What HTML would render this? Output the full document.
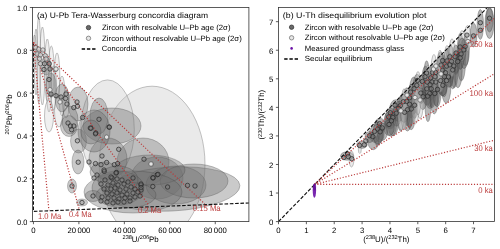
<!DOCTYPE html>
<html><head><meta charset="utf-8"><style>html,body{margin:0;padding:0;background:#fff;width:500px;height:249px;overflow:hidden}svg{display:block;font-family:"Liberation Sans",sans-serif}</style></head>
<body><svg width="500" height="249" viewBox="0 0 500 249"  style="will-change:transform;text-rendering:geometricPrecision">
<defs>
<clipPath id="ca"><rect x="32.45" y="7.5" width="216.45" height="214.1"/></clipPath>
<clipPath id="cb"><rect x="278.5" y="7.4" width="216.0" height="214.2"/></clipPath>
</defs>
<rect width="500" height="249" fill="#fff"/>
<g clip-path="url(#ca)">
<ellipse cx="152.10" cy="164.10" rx="52.90" ry="77.90" fill="#c8c8c8" fill-opacity="0.38" stroke="#707070" stroke-opacity="0.75" stroke-width="0.55"/>
<ellipse cx="107.50" cy="129.70" rx="26.80" ry="49.80" fill="#c8c8c8" fill-opacity="0.38" stroke="#707070" stroke-opacity="0.75" stroke-width="0.55"/>
<ellipse cx="38.70" cy="60.00" rx="1.90" ry="43.00" fill="#cccccc" fill-opacity="0.3" stroke="#6a6a6a" stroke-opacity="0.8" stroke-width="0.5"/>
<ellipse cx="42.40" cy="66.00" rx="2.60" ry="39.00" fill="#cccccc" fill-opacity="0.3" stroke="#6a6a6a" stroke-opacity="0.8" stroke-width="0.5"/>
<ellipse cx="36.00" cy="62.00" rx="1.80" ry="33.00" fill="#cccccc" fill-opacity="0.3" stroke="#6a6a6a" stroke-opacity="0.8" stroke-width="0.5"/>
<ellipse cx="47.30" cy="70.00" rx="2.60" ry="31.00" fill="#cccccc" fill-opacity="0.3" stroke="#6a6a6a" stroke-opacity="0.8" stroke-width="0.5"/>
<ellipse cx="51.30" cy="72.00" rx="2.80" ry="26.00" fill="#cccccc" fill-opacity="0.3" stroke="#6a6a6a" stroke-opacity="0.8" stroke-width="0.5"/>
<ellipse cx="57.00" cy="76.00" rx="2.80" ry="23.00" fill="#cccccc" fill-opacity="0.3" stroke="#6a6a6a" stroke-opacity="0.8" stroke-width="0.5"/>
<ellipse cx="53.50" cy="88.00" rx="3.00" ry="22.00" fill="#cccccc" fill-opacity="0.3" stroke="#6a6a6a" stroke-opacity="0.8" stroke-width="0.5"/>
<ellipse cx="49.00" cy="86.00" rx="2.60" ry="26.00" fill="#cccccc" fill-opacity="0.3" stroke="#6a6a6a" stroke-opacity="0.8" stroke-width="0.5"/>
<ellipse cx="62.00" cy="96.00" rx="3.00" ry="20.00" fill="#cccccc" fill-opacity="0.3" stroke="#6a6a6a" stroke-opacity="0.8" stroke-width="0.5"/>
<ellipse cx="34.50" cy="52.00" rx="1.60" ry="17.00" fill="#cccccc" fill-opacity="0.3" stroke="#6a6a6a" stroke-opacity="0.8" stroke-width="0.5"/>
<ellipse cx="59.00" cy="111.00" rx="4.50" ry="16.00" fill="#cccccc" fill-opacity="0.3" stroke="#6a6a6a" stroke-opacity="0.8" stroke-width="0.5"/>
<ellipse cx="49.00" cy="116.00" rx="4.50" ry="16.00" fill="#cccccc" fill-opacity="0.3" stroke="#6a6a6a" stroke-opacity="0.8" stroke-width="0.5"/>
<ellipse cx="66.00" cy="104.00" rx="3.20" ry="14.00" fill="#cccccc" fill-opacity="0.3" stroke="#6a6a6a" stroke-opacity="0.8" stroke-width="0.5"/>
<ellipse cx="112.00" cy="126.00" rx="29.00" ry="18.00" fill="#6e6e6e" fill-opacity="0.37" stroke="#404040" stroke-opacity="0.55" stroke-width="0.55"/>
<ellipse cx="143.00" cy="162.00" rx="26.00" ry="24.00" fill="#6e6e6e" fill-opacity="0.37" stroke="#404040" stroke-opacity="0.55" stroke-width="0.55"/>
<ellipse cx="157.00" cy="178.00" rx="26.00" ry="21.00" fill="#6e6e6e" fill-opacity="0.37" stroke="#404040" stroke-opacity="0.55" stroke-width="0.55"/>
<ellipse cx="108.00" cy="159.00" rx="19.00" ry="21.00" fill="#6e6e6e" fill-opacity="0.37" stroke="#404040" stroke-opacity="0.55" stroke-width="0.55"/>
<ellipse cx="172.00" cy="189.00" rx="68.00" ry="22.00" fill="#6e6e6e" fill-opacity="0.37" stroke="#404040" stroke-opacity="0.55" stroke-width="0.55" transform="rotate(-3.0 172.00 189.00)"/>
<ellipse cx="176.00" cy="185.00" rx="30.00" ry="19.00" fill="#6e6e6e" fill-opacity="0.37" stroke="#404040" stroke-opacity="0.55" stroke-width="0.55"/>
<ellipse cx="194.00" cy="181.00" rx="34.00" ry="17.00" fill="#6e6e6e" fill-opacity="0.37" stroke="#404040" stroke-opacity="0.55" stroke-width="0.55"/>
<ellipse cx="150.00" cy="170.00" rx="35.00" ry="15.00" fill="#6e6e6e" fill-opacity="0.37" stroke="#404040" stroke-opacity="0.55" stroke-width="0.55"/>
<ellipse cx="133.00" cy="192.00" rx="49.00" ry="21.00" fill="#6e6e6e" fill-opacity="0.37" stroke="#404040" stroke-opacity="0.55" stroke-width="0.55"/>
<ellipse cx="118.00" cy="188.00" rx="26.00" ry="17.00" fill="#6e6e6e" fill-opacity="0.37" stroke="#404040" stroke-opacity="0.55" stroke-width="0.55"/>
<ellipse cx="126.00" cy="195.00" rx="30.00" ry="13.00" fill="#6e6e6e" fill-opacity="0.37" stroke="#404040" stroke-opacity="0.55" stroke-width="0.55"/>
<ellipse cx="78.00" cy="104.00" rx="10.00" ry="17.00" fill="#6e6e6e" fill-opacity="0.37" stroke="#404040" stroke-opacity="0.55" stroke-width="0.55"/>
<ellipse cx="99.00" cy="116.00" rx="9.00" ry="18.00" fill="#6e6e6e" fill-opacity="0.37" stroke="#404040" stroke-opacity="0.55" stroke-width="0.55"/>
<ellipse cx="62.00" cy="98.00" rx="7.00" ry="14.00" fill="#6e6e6e" fill-opacity="0.37" stroke="#404040" stroke-opacity="0.55" stroke-width="0.55"/>
<ellipse cx="51.00" cy="85.00" rx="5.00" ry="12.00" fill="#6e6e6e" fill-opacity="0.37" stroke="#404040" stroke-opacity="0.55" stroke-width="0.55"/>
<ellipse cx="46.00" cy="66.00" rx="5.00" ry="9.00" fill="#6e6e6e" fill-opacity="0.37" stroke="#404040" stroke-opacity="0.55" stroke-width="0.55"/>
<ellipse cx="69.00" cy="126.00" rx="8.50" ry="10.50" fill="#6e6e6e" fill-opacity="0.37" stroke="#404040" stroke-opacity="0.55" stroke-width="0.55"/>
<ellipse cx="78.50" cy="141.00" rx="8.00" ry="12.00" fill="#6e6e6e" fill-opacity="0.37" stroke="#404040" stroke-opacity="0.55" stroke-width="0.55"/>
<ellipse cx="94.00" cy="131.00" rx="16.00" ry="21.00" fill="#6e6e6e" fill-opacity="0.37" stroke="#404040" stroke-opacity="0.55" stroke-width="0.55"/>
<ellipse cx="78.00" cy="162.00" rx="6.00" ry="12.00" fill="#6e6e6e" fill-opacity="0.37" stroke="#404040" stroke-opacity="0.55" stroke-width="0.55"/>
<ellipse cx="72.00" cy="186.00" rx="4.50" ry="7.00" fill="#6e6e6e" fill-opacity="0.37" stroke="#404040" stroke-opacity="0.55" stroke-width="0.55"/>
<ellipse cx="82.00" cy="202.50" rx="5.50" ry="3.50" fill="#6e6e6e" fill-opacity="0.37" stroke="#404040" stroke-opacity="0.55" stroke-width="0.55"/>
<ellipse cx="93.00" cy="196.00" rx="8.00" ry="5.50" fill="#6e6e6e" fill-opacity="0.37" stroke="#404040" stroke-opacity="0.55" stroke-width="0.55"/>
<ellipse cx="104.00" cy="172.00" rx="14.00" ry="10.00" fill="#6e6e6e" fill-opacity="0.37" stroke="#404040" stroke-opacity="0.55" stroke-width="0.55"/>
<ellipse cx="118.00" cy="180.00" rx="20.00" ry="14.00" fill="#6e6e6e" fill-opacity="0.37" stroke="#404040" stroke-opacity="0.55" stroke-width="0.55"/>
<ellipse cx="91.00" cy="132.00" rx="10.00" ry="12.00" fill="#6e6e6e" fill-opacity="0.37" stroke="#404040" stroke-opacity="0.55" stroke-width="0.55"/>
<ellipse cx="70.00" cy="120.00" rx="8.00" ry="14.00" fill="#6e6e6e" fill-opacity="0.37" stroke="#404040" stroke-opacity="0.55" stroke-width="0.55"/>
<path d="M33.35,42.2 L33.45,211.4 L249,203.0" fill="none" stroke="#111" stroke-width="1.15" stroke-dasharray="3.6,1.7"/>
<line x1="33.40" y1="42.40" x2="48.90" y2="210.30" stroke="#bb3b3b" stroke-width="1.2" stroke-dasharray="1.15,1.75" stroke-linecap="butt"/>
<line x1="33.40" y1="42.40" x2="79.00" y2="208.70" stroke="#bb3b3b" stroke-width="1.2" stroke-dasharray="1.15,1.75" stroke-linecap="butt"/>
<line x1="33.40" y1="42.40" x2="149.00" y2="205.70" stroke="#bb3b3b" stroke-width="1.2" stroke-dasharray="1.15,1.75" stroke-linecap="butt"/>
<line x1="33.40" y1="42.40" x2="204.70" y2="203.90" stroke="#bb3b3b" stroke-width="1.2" stroke-dasharray="1.15,1.75" stroke-linecap="butt"/>
<circle cx="35.60" cy="47.60" r="2.2" fill="#d0d0d0" fill-opacity="0.75" stroke="#505050" stroke-width="0.65"/>
<circle cx="38.80" cy="49.20" r="2.2" fill="#d0d0d0" fill-opacity="0.75" stroke="#505050" stroke-width="0.65"/>
<circle cx="42.90" cy="50.00" r="2.2" fill="#d0d0d0" fill-opacity="0.75" stroke="#505050" stroke-width="0.65"/>
<circle cx="37.20" cy="54.00" r="2.2" fill="#d0d0d0" fill-opacity="0.75" stroke="#505050" stroke-width="0.65"/>
<circle cx="40.40" cy="54.90" r="2.2" fill="#d0d0d0" fill-opacity="0.75" stroke="#505050" stroke-width="0.65"/>
<circle cx="45.30" cy="55.70" r="2.2" fill="#d0d0d0" fill-opacity="0.75" stroke="#505050" stroke-width="0.65"/>
<circle cx="39.60" cy="58.90" r="2.2" fill="#d0d0d0" fill-opacity="0.75" stroke="#505050" stroke-width="0.65"/>
<circle cx="46.00" cy="58.90" r="2.2" fill="#d0d0d0" fill-opacity="0.75" stroke="#505050" stroke-width="0.65"/>
<circle cx="40.40" cy="63.70" r="2.2" fill="#d0d0d0" fill-opacity="0.75" stroke="#505050" stroke-width="0.65"/>
<circle cx="44.50" cy="63.70" r="2.2" fill="#7a7a7a" fill-opacity="0.3" stroke="#262626" stroke-width="0.7"/>
<circle cx="49.30" cy="63.70" r="2.2" fill="#7a7a7a" fill-opacity="0.3" stroke="#262626" stroke-width="0.7"/>
<circle cx="44.00" cy="69.50" r="2.2" fill="#7a7a7a" fill-opacity="0.3" stroke="#262626" stroke-width="0.7"/>
<circle cx="50.00" cy="69.00" r="2.2" fill="#7a7a7a" fill-opacity="0.3" stroke="#262626" stroke-width="0.7"/>
<circle cx="49.00" cy="79.50" r="2.2" fill="#7a7a7a" fill-opacity="0.3" stroke="#262626" stroke-width="0.7"/>
<circle cx="51.00" cy="94.00" r="2.2" fill="#7a7a7a" fill-opacity="0.3" stroke="#262626" stroke-width="0.7"/>
<circle cx="56.00" cy="95.70" r="2.2" fill="#7a7a7a" fill-opacity="0.3" stroke="#262626" stroke-width="0.7"/>
<circle cx="61.00" cy="97.00" r="2.2" fill="#7a7a7a" fill-opacity="0.3" stroke="#262626" stroke-width="0.7"/>
<circle cx="66.00" cy="94.00" r="2.2" fill="#7a7a7a" fill-opacity="0.3" stroke="#262626" stroke-width="0.7"/>
<circle cx="65.50" cy="98.50" r="2.2" fill="#7a7a7a" fill-opacity="0.3" stroke="#262626" stroke-width="0.7"/>
<circle cx="67.00" cy="104.00" r="2.2" fill="#7a7a7a" fill-opacity="0.3" stroke="#262626" stroke-width="0.7"/>
<circle cx="77.00" cy="102.00" r="2.2" fill="#7a7a7a" fill-opacity="0.3" stroke="#262626" stroke-width="0.7"/>
<circle cx="73.80" cy="107.60" r="2.2" fill="#7a7a7a" fill-opacity="0.3" stroke="#262626" stroke-width="0.7"/>
<circle cx="77.50" cy="106.30" r="2.2" fill="#7a7a7a" fill-opacity="0.3" stroke="#262626" stroke-width="0.7"/>
<circle cx="82.60" cy="117.50" r="2.2" fill="#7a7a7a" fill-opacity="0.3" stroke="#262626" stroke-width="0.7"/>
<circle cx="99.00" cy="119.30" r="2.2" fill="#7a7a7a" fill-opacity="0.3" stroke="#262626" stroke-width="0.7"/>
<circle cx="68.00" cy="123.00" r="2.2" fill="#7a7a7a" fill-opacity="0.3" stroke="#262626" stroke-width="0.7"/>
<circle cx="70.50" cy="126.00" r="2.2" fill="#7a7a7a" fill-opacity="0.3" stroke="#262626" stroke-width="0.7"/>
<circle cx="73.80" cy="126.00" r="2.2" fill="#7a7a7a" fill-opacity="0.3" stroke="#262626" stroke-width="0.7"/>
<circle cx="71.60" cy="129.70" r="2.2" fill="#7a7a7a" fill-opacity="0.3" stroke="#262626" stroke-width="0.7"/>
<circle cx="90.30" cy="128.00" r="2.2" fill="#7a7a7a" fill-opacity="0.3" stroke="#262626" stroke-width="0.7"/>
<circle cx="109.00" cy="127.00" r="2.2" fill="#7a7a7a" fill-opacity="0.3" stroke="#262626" stroke-width="0.7"/>
<circle cx="95.80" cy="133.00" r="2.2" fill="#7a7a7a" fill-opacity="0.3" stroke="#262626" stroke-width="0.7"/>
<circle cx="91.00" cy="128.30" r="2.2" fill="#7a7a7a" fill-opacity="0.3" stroke="#262626" stroke-width="0.7"/>
<circle cx="95.50" cy="133.80" r="2.2" fill="#7a7a7a" fill-opacity="0.3" stroke="#262626" stroke-width="0.7"/>
<circle cx="109.40" cy="127.20" r="2.2" fill="#7a7a7a" fill-opacity="0.3" stroke="#262626" stroke-width="0.7"/>
<circle cx="118.70" cy="149.30" r="2.2" fill="#7a7a7a" fill-opacity="0.3" stroke="#262626" stroke-width="0.7"/>
<circle cx="102.00" cy="156.00" r="2.2" fill="#7a7a7a" fill-opacity="0.3" stroke="#262626" stroke-width="0.7"/>
<circle cx="95.50" cy="163.60" r="2.2" fill="#7a7a7a" fill-opacity="0.3" stroke="#262626" stroke-width="0.7"/>
<circle cx="101.00" cy="164.70" r="2.2" fill="#7a7a7a" fill-opacity="0.3" stroke="#262626" stroke-width="0.7"/>
<circle cx="106.60" cy="162.50" r="2.2" fill="#7a7a7a" fill-opacity="0.3" stroke="#262626" stroke-width="0.7"/>
<circle cx="114.30" cy="164.70" r="2.2" fill="#7a7a7a" fill-opacity="0.3" stroke="#262626" stroke-width="0.7"/>
<circle cx="117.60" cy="163.60" r="2.2" fill="#7a7a7a" fill-opacity="0.3" stroke="#262626" stroke-width="0.7"/>
<circle cx="104.30" cy="171.40" r="2.2" fill="#7a7a7a" fill-opacity="0.3" stroke="#262626" stroke-width="0.7"/>
<circle cx="116.50" cy="172.50" r="2.2" fill="#7a7a7a" fill-opacity="0.3" stroke="#262626" stroke-width="0.7"/>
<circle cx="112.00" cy="178.00" r="2.2" fill="#7a7a7a" fill-opacity="0.3" stroke="#262626" stroke-width="0.7"/>
<circle cx="144.00" cy="159.20" r="2.2" fill="#7a7a7a" fill-opacity="0.3" stroke="#262626" stroke-width="0.7"/>
<circle cx="157.30" cy="174.70" r="2.2" fill="#7a7a7a" fill-opacity="0.3" stroke="#262626" stroke-width="0.7"/>
<circle cx="153.00" cy="178.00" r="2.2" fill="#7a7a7a" fill-opacity="0.3" stroke="#262626" stroke-width="0.7"/>
<circle cx="133.00" cy="178.00" r="2.2" fill="#7a7a7a" fill-opacity="0.3" stroke="#262626" stroke-width="0.7"/>
<circle cx="78.20" cy="162.20" r="2.2" fill="#7a7a7a" fill-opacity="0.3" stroke="#262626" stroke-width="0.7"/>
<circle cx="77.40" cy="140.80" r="2.2" fill="#7a7a7a" fill-opacity="0.3" stroke="#262626" stroke-width="0.7"/>
<circle cx="72.00" cy="186.00" r="2.2" fill="#7a7a7a" fill-opacity="0.3" stroke="#262626" stroke-width="0.7"/>
<circle cx="82.00" cy="202.50" r="2.2" fill="#7a7a7a" fill-opacity="0.3" stroke="#262626" stroke-width="0.7"/>
<circle cx="93.00" cy="196.00" r="2.2" fill="#7a7a7a" fill-opacity="0.3" stroke="#262626" stroke-width="0.7"/>
<circle cx="104.00" cy="170.00" r="2.2" fill="#7a7a7a" fill-opacity="0.3" stroke="#262626" stroke-width="0.7"/>
<circle cx="116.00" cy="173.00" r="2.2" fill="#7a7a7a" fill-opacity="0.3" stroke="#262626" stroke-width="0.7"/>
<circle cx="94.00" cy="178.00" r="2.2" fill="#7a7a7a" fill-opacity="0.3" stroke="#262626" stroke-width="0.7"/>
<circle cx="97.00" cy="175.00" r="2.2" fill="#7a7a7a" fill-opacity="0.3" stroke="#262626" stroke-width="0.7"/>
<circle cx="105.00" cy="180.00" r="2.2" fill="#7a7a7a" fill-opacity="0.3" stroke="#262626" stroke-width="0.7"/>
<circle cx="111.00" cy="177.00" r="2.2" fill="#7a7a7a" fill-opacity="0.3" stroke="#262626" stroke-width="0.7"/>
<circle cx="117.00" cy="179.00" r="2.2" fill="#7a7a7a" fill-opacity="0.3" stroke="#262626" stroke-width="0.7"/>
<circle cx="122.00" cy="180.00" r="2.2" fill="#7a7a7a" fill-opacity="0.3" stroke="#262626" stroke-width="0.7"/>
<circle cx="101.00" cy="184.00" r="2.2" fill="#7a7a7a" fill-opacity="0.3" stroke="#262626" stroke-width="0.7"/>
<circle cx="108.00" cy="185.00" r="2.2" fill="#7a7a7a" fill-opacity="0.3" stroke="#262626" stroke-width="0.7"/>
<circle cx="113.00" cy="183.00" r="2.2" fill="#7a7a7a" fill-opacity="0.3" stroke="#262626" stroke-width="0.7"/>
<circle cx="118.00" cy="185.00" r="2.2" fill="#7a7a7a" fill-opacity="0.3" stroke="#262626" stroke-width="0.7"/>
<circle cx="124.00" cy="184.00" r="2.2" fill="#7a7a7a" fill-opacity="0.3" stroke="#262626" stroke-width="0.7"/>
<circle cx="128.00" cy="182.00" r="2.2" fill="#7a7a7a" fill-opacity="0.3" stroke="#262626" stroke-width="0.7"/>
<circle cx="104.00" cy="189.00" r="2.2" fill="#7a7a7a" fill-opacity="0.3" stroke="#262626" stroke-width="0.7"/>
<circle cx="111.00" cy="189.00" r="2.2" fill="#7a7a7a" fill-opacity="0.3" stroke="#262626" stroke-width="0.7"/>
<circle cx="115.00" cy="188.00" r="2.2" fill="#7a7a7a" fill-opacity="0.3" stroke="#262626" stroke-width="0.7"/>
<circle cx="120.00" cy="190.00" r="2.2" fill="#7a7a7a" fill-opacity="0.3" stroke="#262626" stroke-width="0.7"/>
<circle cx="126.00" cy="189.00" r="2.2" fill="#7a7a7a" fill-opacity="0.3" stroke="#262626" stroke-width="0.7"/>
<circle cx="131.00" cy="187.00" r="2.2" fill="#7a7a7a" fill-opacity="0.3" stroke="#262626" stroke-width="0.7"/>
<circle cx="135.00" cy="189.00" r="2.2" fill="#7a7a7a" fill-opacity="0.3" stroke="#262626" stroke-width="0.7"/>
<circle cx="107.00" cy="193.00" r="2.2" fill="#7a7a7a" fill-opacity="0.3" stroke="#262626" stroke-width="0.7"/>
<circle cx="112.00" cy="194.00" r="2.2" fill="#7a7a7a" fill-opacity="0.3" stroke="#262626" stroke-width="0.7"/>
<circle cx="117.00" cy="193.00" r="2.2" fill="#7a7a7a" fill-opacity="0.3" stroke="#262626" stroke-width="0.7"/>
<circle cx="122.00" cy="195.00" r="2.2" fill="#7a7a7a" fill-opacity="0.3" stroke="#262626" stroke-width="0.7"/>
<circle cx="127.00" cy="194.00" r="2.2" fill="#7a7a7a" fill-opacity="0.3" stroke="#262626" stroke-width="0.7"/>
<circle cx="133.00" cy="193.00" r="2.2" fill="#7a7a7a" fill-opacity="0.3" stroke="#262626" stroke-width="0.7"/>
<circle cx="138.00" cy="192.00" r="2.2" fill="#7a7a7a" fill-opacity="0.3" stroke="#262626" stroke-width="0.7"/>
<circle cx="102.00" cy="197.00" r="2.2" fill="#7a7a7a" fill-opacity="0.3" stroke="#262626" stroke-width="0.7"/>
<circle cx="108.00" cy="198.00" r="2.2" fill="#7a7a7a" fill-opacity="0.3" stroke="#262626" stroke-width="0.7"/>
<circle cx="114.00" cy="198.00" r="2.2" fill="#7a7a7a" fill-opacity="0.3" stroke="#262626" stroke-width="0.7"/>
<circle cx="119.00" cy="199.00" r="2.2" fill="#7a7a7a" fill-opacity="0.3" stroke="#262626" stroke-width="0.7"/>
<circle cx="125.00" cy="198.00" r="2.2" fill="#7a7a7a" fill-opacity="0.3" stroke="#262626" stroke-width="0.7"/>
<circle cx="130.00" cy="198.00" r="2.2" fill="#7a7a7a" fill-opacity="0.3" stroke="#262626" stroke-width="0.7"/>
<circle cx="135.00" cy="197.00" r="2.2" fill="#7a7a7a" fill-opacity="0.3" stroke="#262626" stroke-width="0.7"/>
<circle cx="140.00" cy="196.00" r="2.2" fill="#7a7a7a" fill-opacity="0.3" stroke="#262626" stroke-width="0.7"/>
<circle cx="101.00" cy="201.00" r="2.2" fill="#7a7a7a" fill-opacity="0.3" stroke="#262626" stroke-width="0.7"/>
<circle cx="107.00" cy="202.00" r="2.2" fill="#7a7a7a" fill-opacity="0.3" stroke="#262626" stroke-width="0.7"/>
<circle cx="113.00" cy="203.00" r="2.2" fill="#7a7a7a" fill-opacity="0.3" stroke="#262626" stroke-width="0.7"/>
<circle cx="118.00" cy="202.00" r="2.2" fill="#7a7a7a" fill-opacity="0.3" stroke="#262626" stroke-width="0.7"/>
<circle cx="124.00" cy="202.00" r="2.2" fill="#7a7a7a" fill-opacity="0.3" stroke="#262626" stroke-width="0.7"/>
<circle cx="130.00" cy="201.00" r="2.2" fill="#7a7a7a" fill-opacity="0.3" stroke="#262626" stroke-width="0.7"/>
<circle cx="141.00" cy="185.00" r="2.2" fill="#7a7a7a" fill-opacity="0.3" stroke="#262626" stroke-width="0.7"/>
<circle cx="141.00" cy="190.00" r="2.2" fill="#7a7a7a" fill-opacity="0.3" stroke="#262626" stroke-width="0.7"/>
<circle cx="89.00" cy="162.00" r="2.2" fill="#7a7a7a" fill-opacity="0.3" stroke="#262626" stroke-width="0.7"/>
<circle cx="153.00" cy="177.70" r="2.2" fill="#7a7a7a" fill-opacity="0.3" stroke="#262626" stroke-width="0.7"/>
<circle cx="158.00" cy="174.30" r="2.2" fill="#7a7a7a" fill-opacity="0.3" stroke="#262626" stroke-width="0.7"/>
<circle cx="141.00" cy="184.00" r="2.2" fill="#7a7a7a" fill-opacity="0.3" stroke="#262626" stroke-width="0.7"/>
<circle cx="141.00" cy="187.60" r="2.2" fill="#7a7a7a" fill-opacity="0.3" stroke="#262626" stroke-width="0.7"/>
<circle cx="152.80" cy="186.50" r="2.2" fill="#7a7a7a" fill-opacity="0.3" stroke="#262626" stroke-width="0.7"/>
<circle cx="167.60" cy="187.00" r="2.2" fill="#7a7a7a" fill-opacity="0.3" stroke="#262626" stroke-width="0.7"/>
<circle cx="187.50" cy="185.40" r="2.2" fill="#7a7a7a" fill-opacity="0.3" stroke="#262626" stroke-width="0.7"/>
<circle cx="195.00" cy="186.00" r="2.2" fill="#7a7a7a" fill-opacity="0.3" stroke="#262626" stroke-width="0.7"/>
<circle cx="55.70" cy="69.30" r="2.2" fill="#e4e4e4" stroke="#5a5a5a" stroke-width="0.7"/>
<circle cx="50.00" cy="89.70" r="2.2" fill="#e4e4e4" stroke="#5a5a5a" stroke-width="0.7"/>
<circle cx="60.00" cy="102.00" r="2.2" fill="#e4e4e4" stroke="#5a5a5a" stroke-width="0.7"/>
<circle cx="106.60" cy="137.10" r="2.2" fill="#e4e4e4" stroke="#5a5a5a" stroke-width="0.7"/>
<circle cx="151.40" cy="164.00" r="2.2" fill="#e4e4e4" stroke="#5a5a5a" stroke-width="0.7"/>
<circle cx="151.00" cy="164.00" r="2.2" fill="#e4e4e4" stroke="#5a5a5a" stroke-width="0.7"/>
<circle cx="56.00" cy="69.00" r="2.2" fill="#e4e4e4" stroke="#5a5a5a" stroke-width="0.7"/>
<text x="38" y="218.7" font-size="8.3" fill="#bb3b3b" textLength="23.2" lengthAdjust="spacingAndGlyphs">1.0 Ma</text>
<text x="68.9" y="216.6" font-size="8.3" fill="#bb3b3b" textLength="22.7" lengthAdjust="spacingAndGlyphs">0.4 Ma</text>
<text x="137.9" y="213.3" font-size="8.3" fill="#bb3b3b" textLength="23.3" lengthAdjust="spacingAndGlyphs">0.2 Ma</text>
<text x="192.8" y="211.1" font-size="8.3" fill="#bb3b3b" textLength="27.8" lengthAdjust="spacingAndGlyphs">0.15 Ma</text>
</g>
<g clip-path="url(#cb)">
<ellipse cx="460.32" cy="51.47" rx="3.16" ry="18.19" fill="#666" fill-opacity="0.48" stroke="#383838" stroke-opacity="0.6" stroke-width="0.55"/>
<ellipse cx="465.51" cy="51.31" rx="3.82" ry="14.51" fill="#666" fill-opacity="0.48" stroke="#383838" stroke-opacity="0.6" stroke-width="0.55"/>
<ellipse cx="461.40" cy="63.31" rx="4.02" ry="17.55" fill="#666" fill-opacity="0.48" stroke="#383838" stroke-opacity="0.6" stroke-width="0.55"/>
<ellipse cx="455.80" cy="59.71" rx="3.83" ry="14.82" fill="#666" fill-opacity="0.48" stroke="#383838" stroke-opacity="0.6" stroke-width="0.55"/>
<ellipse cx="464.06" cy="53.91" rx="4.47" ry="14.70" fill="#666" fill-opacity="0.48" stroke="#383838" stroke-opacity="0.6" stroke-width="0.55"/>
<ellipse cx="450.26" cy="64.04" rx="4.62" ry="18.77" fill="#666" fill-opacity="0.48" stroke="#383838" stroke-opacity="0.6" stroke-width="0.55"/>
<ellipse cx="455.52" cy="62.08" rx="4.42" ry="10.84" fill="#666" fill-opacity="0.48" stroke="#383838" stroke-opacity="0.6" stroke-width="0.55"/>
<ellipse cx="460.15" cy="61.03" rx="3.63" ry="7.99" fill="#666" fill-opacity="0.48" stroke="#383838" stroke-opacity="0.6" stroke-width="0.55"/>
<ellipse cx="442.19" cy="66.76" rx="4.38" ry="12.85" fill="#666" fill-opacity="0.48" stroke="#383838" stroke-opacity="0.6" stroke-width="0.55"/>
<ellipse cx="446.69" cy="66.17" rx="3.12" ry="16.60" fill="#666" fill-opacity="0.48" stroke="#383838" stroke-opacity="0.6" stroke-width="0.55"/>
<ellipse cx="451.16" cy="64.76" rx="4.42" ry="8.69" fill="#666" fill-opacity="0.48" stroke="#383838" stroke-opacity="0.6" stroke-width="0.55"/>
<ellipse cx="457.87" cy="70.63" rx="4.30" ry="17.08" fill="#666" fill-opacity="0.48" stroke="#383838" stroke-opacity="0.6" stroke-width="0.55"/>
<ellipse cx="440.58" cy="70.12" rx="3.89" ry="18.39" fill="#666" fill-opacity="0.48" stroke="#383838" stroke-opacity="0.6" stroke-width="0.55"/>
<ellipse cx="446.85" cy="70.58" rx="3.95" ry="10.48" fill="#666" fill-opacity="0.48" stroke="#383838" stroke-opacity="0.6" stroke-width="0.55"/>
<ellipse cx="449.87" cy="70.22" rx="3.94" ry="17.12" fill="#666" fill-opacity="0.48" stroke="#383838" stroke-opacity="0.6" stroke-width="0.55"/>
<ellipse cx="454.27" cy="70.67" rx="3.69" ry="17.14" fill="#666" fill-opacity="0.48" stroke="#383838" stroke-opacity="0.6" stroke-width="0.55"/>
<ellipse cx="442.79" cy="77.68" rx="4.53" ry="18.62" fill="#666" fill-opacity="0.48" stroke="#383838" stroke-opacity="0.6" stroke-width="0.55"/>
<ellipse cx="452.71" cy="75.49" rx="3.36" ry="13.43" fill="#666" fill-opacity="0.48" stroke="#383838" stroke-opacity="0.6" stroke-width="0.55"/>
<ellipse cx="426.62" cy="79.35" rx="3.05" ry="18.63" fill="#666" fill-opacity="0.48" stroke="#383838" stroke-opacity="0.6" stroke-width="0.55"/>
<ellipse cx="432.48" cy="78.66" rx="4.44" ry="13.75" fill="#666" fill-opacity="0.48" stroke="#383838" stroke-opacity="0.6" stroke-width="0.55"/>
<ellipse cx="435.64" cy="79.67" rx="3.12" ry="13.46" fill="#666" fill-opacity="0.48" stroke="#383838" stroke-opacity="0.6" stroke-width="0.55"/>
<ellipse cx="445.49" cy="75.23" rx="4.66" ry="10.23" fill="#666" fill-opacity="0.48" stroke="#383838" stroke-opacity="0.6" stroke-width="0.55"/>
<ellipse cx="425.39" cy="82.87" rx="3.78" ry="16.79" fill="#666" fill-opacity="0.48" stroke="#383838" stroke-opacity="0.6" stroke-width="0.55"/>
<ellipse cx="430.76" cy="82.76" rx="3.57" ry="9.30" fill="#666" fill-opacity="0.48" stroke="#383838" stroke-opacity="0.6" stroke-width="0.55"/>
<ellipse cx="434.54" cy="81.09" rx="3.23" ry="16.35" fill="#666" fill-opacity="0.48" stroke="#383838" stroke-opacity="0.6" stroke-width="0.55"/>
<ellipse cx="444.15" cy="81.66" rx="3.41" ry="15.24" fill="#666" fill-opacity="0.48" stroke="#383838" stroke-opacity="0.6" stroke-width="0.55"/>
<ellipse cx="448.68" cy="78.95" rx="4.12" ry="8.26" fill="#666" fill-opacity="0.48" stroke="#383838" stroke-opacity="0.6" stroke-width="0.55"/>
<ellipse cx="417.17" cy="84.26" rx="3.92" ry="10.01" fill="#666" fill-opacity="0.48" stroke="#383838" stroke-opacity="0.6" stroke-width="0.55"/>
<ellipse cx="422.27" cy="85.86" rx="3.79" ry="11.51" fill="#666" fill-opacity="0.48" stroke="#383838" stroke-opacity="0.6" stroke-width="0.55"/>
<ellipse cx="427.46" cy="86.15" rx="3.29" ry="9.45" fill="#666" fill-opacity="0.48" stroke="#383838" stroke-opacity="0.6" stroke-width="0.55"/>
<ellipse cx="432.24" cy="90.56" rx="3.95" ry="17.22" fill="#666" fill-opacity="0.48" stroke="#383838" stroke-opacity="0.6" stroke-width="0.55"/>
<ellipse cx="436.14" cy="90.24" rx="3.42" ry="15.89" fill="#666" fill-opacity="0.48" stroke="#383838" stroke-opacity="0.6" stroke-width="0.55"/>
<ellipse cx="441.00" cy="83.58" rx="3.57" ry="10.78" fill="#666" fill-opacity="0.48" stroke="#383838" stroke-opacity="0.6" stroke-width="0.55"/>
<ellipse cx="446.14" cy="85.63" rx="4.80" ry="17.65" fill="#666" fill-opacity="0.48" stroke="#383838" stroke-opacity="0.6" stroke-width="0.55"/>
<ellipse cx="416.41" cy="90.34" rx="4.31" ry="10.11" fill="#666" fill-opacity="0.48" stroke="#383838" stroke-opacity="0.6" stroke-width="0.55"/>
<ellipse cx="429.74" cy="90.30" rx="3.76" ry="16.48" fill="#666" fill-opacity="0.48" stroke="#383838" stroke-opacity="0.6" stroke-width="0.55"/>
<ellipse cx="442.51" cy="88.45" rx="4.23" ry="7.21" fill="#666" fill-opacity="0.48" stroke="#383838" stroke-opacity="0.6" stroke-width="0.55"/>
<ellipse cx="413.62" cy="95.69" rx="4.64" ry="18.62" fill="#666" fill-opacity="0.48" stroke="#383838" stroke-opacity="0.6" stroke-width="0.55"/>
<ellipse cx="426.96" cy="92.31" rx="4.36" ry="13.03" fill="#666" fill-opacity="0.48" stroke="#383838" stroke-opacity="0.6" stroke-width="0.55"/>
<ellipse cx="430.78" cy="92.08" rx="3.13" ry="8.27" fill="#666" fill-opacity="0.48" stroke="#383838" stroke-opacity="0.6" stroke-width="0.55"/>
<ellipse cx="437.13" cy="93.08" rx="3.93" ry="13.82" fill="#666" fill-opacity="0.48" stroke="#383838" stroke-opacity="0.6" stroke-width="0.55"/>
<ellipse cx="411.06" cy="101.04" rx="3.37" ry="17.08" fill="#666" fill-opacity="0.48" stroke="#383838" stroke-opacity="0.6" stroke-width="0.55"/>
<ellipse cx="421.32" cy="95.81" rx="3.17" ry="7.74" fill="#666" fill-opacity="0.48" stroke="#383838" stroke-opacity="0.6" stroke-width="0.55"/>
<ellipse cx="429.76" cy="97.67" rx="4.38" ry="10.92" fill="#666" fill-opacity="0.48" stroke="#383838" stroke-opacity="0.6" stroke-width="0.55"/>
<ellipse cx="434.24" cy="99.78" rx="3.77" ry="14.21" fill="#666" fill-opacity="0.48" stroke="#383838" stroke-opacity="0.6" stroke-width="0.55"/>
<ellipse cx="409.55" cy="102.00" rx="4.52" ry="9.18" fill="#666" fill-opacity="0.48" stroke="#383838" stroke-opacity="0.6" stroke-width="0.55"/>
<ellipse cx="422.79" cy="100.30" rx="3.73" ry="9.34" fill="#666" fill-opacity="0.48" stroke="#383838" stroke-opacity="0.6" stroke-width="0.55"/>
<ellipse cx="427.94" cy="104.06" rx="3.03" ry="17.72" fill="#666" fill-opacity="0.48" stroke="#383838" stroke-opacity="0.6" stroke-width="0.55"/>
<ellipse cx="403.29" cy="107.65" rx="4.55" ry="14.55" fill="#666" fill-opacity="0.48" stroke="#383838" stroke-opacity="0.6" stroke-width="0.55"/>
<ellipse cx="407.03" cy="106.85" rx="3.91" ry="18.79" fill="#666" fill-opacity="0.48" stroke="#383838" stroke-opacity="0.6" stroke-width="0.55"/>
<ellipse cx="395.31" cy="110.47" rx="5.87" ry="10.72" fill="#666" fill-opacity="0.48" stroke="#383838" stroke-opacity="0.6" stroke-width="0.55"/>
<ellipse cx="400.73" cy="113.58" rx="3.73" ry="17.76" fill="#666" fill-opacity="0.48" stroke="#383838" stroke-opacity="0.6" stroke-width="0.55"/>
<ellipse cx="409.49" cy="111.60" rx="4.38" ry="16.18" fill="#666" fill-opacity="0.48" stroke="#383838" stroke-opacity="0.6" stroke-width="0.55"/>
<ellipse cx="414.56" cy="107.45" rx="3.13" ry="11.10" fill="#666" fill-opacity="0.48" stroke="#383838" stroke-opacity="0.6" stroke-width="0.55"/>
<ellipse cx="398.76" cy="111.33" rx="5.03" ry="10.19" fill="#666" fill-opacity="0.48" stroke="#383838" stroke-opacity="0.6" stroke-width="0.55"/>
<ellipse cx="407.40" cy="116.10" rx="4.70" ry="14.99" fill="#666" fill-opacity="0.48" stroke="#383838" stroke-opacity="0.6" stroke-width="0.55"/>
<ellipse cx="411.16" cy="116.34" rx="4.03" ry="13.40" fill="#666" fill-opacity="0.48" stroke="#383838" stroke-opacity="0.6" stroke-width="0.55"/>
<ellipse cx="390.56" cy="118.45" rx="5.46" ry="10.51" fill="#666" fill-opacity="0.48" stroke="#383838" stroke-opacity="0.6" stroke-width="0.55"/>
<ellipse cx="396.51" cy="116.09" rx="4.53" ry="10.08" fill="#666" fill-opacity="0.48" stroke="#383838" stroke-opacity="0.6" stroke-width="0.55"/>
<ellipse cx="404.27" cy="114.82" rx="3.72" ry="7.61" fill="#666" fill-opacity="0.48" stroke="#383838" stroke-opacity="0.6" stroke-width="0.55"/>
<ellipse cx="388.98" cy="120.18" rx="4.65" ry="8.25" fill="#666" fill-opacity="0.48" stroke="#383838" stroke-opacity="0.6" stroke-width="0.55"/>
<ellipse cx="393.00" cy="123.86" rx="5.26" ry="11.84" fill="#666" fill-opacity="0.48" stroke="#383838" stroke-opacity="0.6" stroke-width="0.55"/>
<ellipse cx="391.02" cy="125.29" rx="5.46" ry="11.05" fill="#666" fill-opacity="0.48" stroke="#383838" stroke-opacity="0.6" stroke-width="0.55"/>
<ellipse cx="379.99" cy="125.47" rx="5.64" ry="7.23" fill="#666" fill-opacity="0.48" stroke="#383838" stroke-opacity="0.6" stroke-width="0.55"/>
<ellipse cx="389.00" cy="127.71" rx="5.21" ry="7.85" fill="#666" fill-opacity="0.48" stroke="#383838" stroke-opacity="0.6" stroke-width="0.55"/>
<ellipse cx="377.61" cy="133.63" rx="4.59" ry="11.73" fill="#666" fill-opacity="0.48" stroke="#383838" stroke-opacity="0.6" stroke-width="0.55"/>
<ellipse cx="382.08" cy="131.70" rx="5.40" ry="8.83" fill="#666" fill-opacity="0.48" stroke="#383838" stroke-opacity="0.6" stroke-width="0.55"/>
<ellipse cx="374.67" cy="134.03" rx="5.34" ry="8.42" fill="#666" fill-opacity="0.48" stroke="#383838" stroke-opacity="0.6" stroke-width="0.55"/>
<ellipse cx="379.62" cy="133.90" rx="4.52" ry="8.23" fill="#666" fill-opacity="0.48" stroke="#383838" stroke-opacity="0.6" stroke-width="0.55"/>
<ellipse cx="373.26" cy="140.75" rx="5.63" ry="8.95" fill="#666" fill-opacity="0.48" stroke="#383838" stroke-opacity="0.6" stroke-width="0.55"/>
<ellipse cx="433.94" cy="73.26" rx="3.09" ry="18.87" fill="#c8c8c8" fill-opacity="0.38" stroke="#707070" stroke-opacity="0.75" stroke-width="0.55"/>
<ellipse cx="435.88" cy="72.57" rx="4.63" ry="12.15" fill="#c8c8c8" fill-opacity="0.38" stroke="#707070" stroke-opacity="0.75" stroke-width="0.55"/>
<ellipse cx="401.34" cy="116.82" rx="3.44" ry="13.28" fill="#c8c8c8" fill-opacity="0.38" stroke="#707070" stroke-opacity="0.75" stroke-width="0.55"/>
<ellipse cx="415.32" cy="105.21" rx="3.84" ry="18.75" fill="#c8c8c8" fill-opacity="0.38" stroke="#707070" stroke-opacity="0.75" stroke-width="0.55"/>
<ellipse cx="419.96" cy="103.93" rx="3.21" ry="14.49" fill="#c8c8c8" fill-opacity="0.38" stroke="#707070" stroke-opacity="0.75" stroke-width="0.55"/>
<ellipse cx="440.62" cy="78.63" rx="3.09" ry="13.34" fill="#c8c8c8" fill-opacity="0.38" stroke="#707070" stroke-opacity="0.75" stroke-width="0.55"/>
<ellipse cx="406.76" cy="100.13" rx="4.20" ry="12.47" fill="#c8c8c8" fill-opacity="0.38" stroke="#707070" stroke-opacity="0.75" stroke-width="0.55"/>
<ellipse cx="404.00" cy="108.95" rx="3.03" ry="20.22" fill="#c8c8c8" fill-opacity="0.38" stroke="#707070" stroke-opacity="0.75" stroke-width="0.55"/>
<ellipse cx="418.00" cy="93.13" rx="3.23" ry="21.62" fill="#c8c8c8" fill-opacity="0.38" stroke="#707070" stroke-opacity="0.75" stroke-width="0.55"/>
<ellipse cx="428.00" cy="79.98" rx="3.39" ry="14.91" fill="#c8c8c8" fill-opacity="0.38" stroke="#707070" stroke-opacity="0.75" stroke-width="0.55"/>
<ellipse cx="440.00" cy="69.05" rx="2.86" ry="19.00" fill="#c8c8c8" fill-opacity="0.38" stroke="#707070" stroke-opacity="0.75" stroke-width="0.55"/>
<ellipse cx="447.00" cy="64.93" rx="3.06" ry="19.48" fill="#c8c8c8" fill-opacity="0.38" stroke="#707070" stroke-opacity="0.75" stroke-width="0.55"/>
<ellipse cx="452.00" cy="57.80" rx="3.25" ry="19.06" fill="#c8c8c8" fill-opacity="0.38" stroke="#707070" stroke-opacity="0.75" stroke-width="0.55"/>
<ellipse cx="462.00" cy="46.50" rx="3.48" ry="15.99" fill="#c8c8c8" fill-opacity="0.38" stroke="#707070" stroke-opacity="0.75" stroke-width="0.55"/>
<ellipse cx="489.50" cy="23.00" rx="4.50" ry="15.50" fill="#5a5a5a" fill-opacity="0.42" stroke="#303030" stroke-opacity="0.6" stroke-width="0.55"/>
<ellipse cx="489.50" cy="20.00" rx="3.50" ry="12.00" fill="#666" fill-opacity="0.48" stroke="#383838" stroke-opacity="0.6" stroke-width="0.55"/>
<ellipse cx="480.30" cy="24.50" rx="3.20" ry="15.00" fill="#666" fill-opacity="0.48" stroke="#383838" stroke-opacity="0.6" stroke-width="0.55"/>
<ellipse cx="473.50" cy="35.00" rx="3.40" ry="12.00" fill="#666" fill-opacity="0.48" stroke="#383838" stroke-opacity="0.6" stroke-width="0.55"/>
<ellipse cx="467.50" cy="38.50" rx="3.20" ry="13.00" fill="#c8c8c8" fill-opacity="0.38" stroke="#707070" stroke-opacity="0.75" stroke-width="0.55"/>
<ellipse cx="462.00" cy="50.00" rx="4.00" ry="12.00" fill="#666" fill-opacity="0.48" stroke="#383838" stroke-opacity="0.6" stroke-width="0.55"/>
<ellipse cx="347.00" cy="156.00" rx="6.50" ry="4.20" fill="#666" fill-opacity="0.48" stroke="#383838" stroke-opacity="0.6" stroke-width="0.55"/>
<ellipse cx="351.50" cy="159.00" rx="2.40" ry="8.00" fill="#c8c8c8" fill-opacity="0.38" stroke="#707070" stroke-opacity="0.75" stroke-width="0.55"/>
<ellipse cx="362.00" cy="144.70" rx="5.20" ry="3.70" fill="#666" fill-opacity="0.48" stroke="#383838" stroke-opacity="0.6" stroke-width="0.55"/>
<ellipse cx="359.80" cy="149.00" rx="1.50" ry="4.50" fill="#c8c8c8" fill-opacity="0.38" stroke="#707070" stroke-opacity="0.75" stroke-width="0.55"/>
<ellipse cx="369.50" cy="137.00" rx="4.50" ry="5.50" fill="#666" fill-opacity="0.48" stroke="#383838" stroke-opacity="0.6" stroke-width="0.55"/>
<ellipse cx="378.00" cy="134.00" rx="5.00" ry="10.00" fill="#666" fill-opacity="0.48" stroke="#383838" stroke-opacity="0.6" stroke-width="0.55"/>
<ellipse cx="375.50" cy="131.00" rx="2.00" ry="6.00" fill="#c8c8c8" fill-opacity="0.38" stroke="#707070" stroke-opacity="0.75" stroke-width="0.55"/>
<circle cx="343.80" cy="157.50" r="2.2" fill="#7a7a7a" fill-opacity="0.5" stroke="#262626" stroke-width="0.7"/>
<circle cx="347.50" cy="153.90" r="2.2" fill="#7a7a7a" fill-opacity="0.5" stroke="#262626" stroke-width="0.7"/>
<circle cx="348.30" cy="156.60" r="2.2" fill="#7a7a7a" fill-opacity="0.5" stroke="#262626" stroke-width="0.7"/>
<circle cx="351.70" cy="158.70" r="2.2" fill="#7a7a7a" fill-opacity="0.5" stroke="#262626" stroke-width="0.7"/>
<circle cx="359.50" cy="145.40" r="2.2" fill="#7a7a7a" fill-opacity="0.5" stroke="#262626" stroke-width="0.7"/>
<circle cx="364.30" cy="144.80" r="2.2" fill="#7a7a7a" fill-opacity="0.5" stroke="#262626" stroke-width="0.7"/>
<circle cx="369.50" cy="135.70" r="2.2" fill="#7a7a7a" fill-opacity="0.5" stroke="#262626" stroke-width="0.7"/>
<circle cx="489.50" cy="18.20" r="2.2" fill="#7a7a7a" fill-opacity="0.5" stroke="#262626" stroke-width="0.7"/>
<circle cx="480.40" cy="22.70" r="2.2" fill="#7a7a7a" fill-opacity="0.5" stroke="#262626" stroke-width="0.7"/>
<circle cx="480.40" cy="30.30" r="2.2" fill="#7a7a7a" fill-opacity="0.5" stroke="#262626" stroke-width="0.7"/>
<circle cx="473.50" cy="35.90" r="2.2" fill="#7a7a7a" fill-opacity="0.5" stroke="#262626" stroke-width="0.7"/>
<circle cx="467.00" cy="35.10" r="2.2" fill="#7a7a7a" fill-opacity="0.5" stroke="#262626" stroke-width="0.7"/>
<circle cx="460.10" cy="47.00" r="2.2" fill="#7a7a7a" fill-opacity="0.5" stroke="#262626" stroke-width="0.7"/>
<circle cx="465.10" cy="46.50" r="2.2" fill="#7a7a7a" fill-opacity="0.5" stroke="#262626" stroke-width="0.7"/>
<circle cx="461.10" cy="54.00" r="2.2" fill="#7a7a7a" fill-opacity="0.5" stroke="#262626" stroke-width="0.7"/>
<circle cx="456.10" cy="53.00" r="2.2" fill="#7a7a7a" fill-opacity="0.5" stroke="#262626" stroke-width="0.7"/>
<circle cx="463.84" cy="49.88" r="2.2" fill="#7a7a7a" fill-opacity="0.5" stroke="#262626" stroke-width="0.7"/>
<circle cx="449.78" cy="56.76" r="2.2" fill="#7a7a7a" fill-opacity="0.5" stroke="#262626" stroke-width="0.7"/>
<circle cx="455.11" cy="56.67" r="2.2" fill="#7a7a7a" fill-opacity="0.5" stroke="#262626" stroke-width="0.7"/>
<circle cx="460.20" cy="57.89" r="2.2" fill="#7a7a7a" fill-opacity="0.5" stroke="#262626" stroke-width="0.7"/>
<circle cx="442.66" cy="60.55" r="2.2" fill="#7a7a7a" fill-opacity="0.5" stroke="#262626" stroke-width="0.7"/>
<circle cx="447.02" cy="60.90" r="2.2" fill="#7a7a7a" fill-opacity="0.5" stroke="#262626" stroke-width="0.7"/>
<circle cx="451.51" cy="61.45" r="2.2" fill="#7a7a7a" fill-opacity="0.5" stroke="#262626" stroke-width="0.7"/>
<circle cx="457.68" cy="61.56" r="2.2" fill="#7a7a7a" fill-opacity="0.5" stroke="#262626" stroke-width="0.7"/>
<circle cx="440.99" cy="65.02" r="2.2" fill="#7a7a7a" fill-opacity="0.5" stroke="#262626" stroke-width="0.7"/>
<circle cx="446.62" cy="66.14" r="2.2" fill="#7a7a7a" fill-opacity="0.5" stroke="#262626" stroke-width="0.7"/>
<circle cx="449.81" cy="64.92" r="2.2" fill="#7a7a7a" fill-opacity="0.5" stroke="#262626" stroke-width="0.7"/>
<circle cx="453.87" cy="66.00" r="2.2" fill="#7a7a7a" fill-opacity="0.5" stroke="#262626" stroke-width="0.7"/>
<circle cx="442.77" cy="70.22" r="2.2" fill="#7a7a7a" fill-opacity="0.5" stroke="#262626" stroke-width="0.7"/>
<circle cx="452.71" cy="69.96" r="2.2" fill="#7a7a7a" fill-opacity="0.5" stroke="#262626" stroke-width="0.7"/>
<circle cx="426.60" cy="73.01" r="2.2" fill="#7a7a7a" fill-opacity="0.5" stroke="#262626" stroke-width="0.7"/>
<circle cx="432.49" cy="72.58" r="2.2" fill="#7a7a7a" fill-opacity="0.5" stroke="#262626" stroke-width="0.7"/>
<circle cx="435.73" cy="72.46" r="2.2" fill="#7a7a7a" fill-opacity="0.5" stroke="#262626" stroke-width="0.7"/>
<circle cx="445.52" cy="72.73" r="2.2" fill="#7a7a7a" fill-opacity="0.5" stroke="#262626" stroke-width="0.7"/>
<circle cx="424.99" cy="76.71" r="2.2" fill="#7a7a7a" fill-opacity="0.5" stroke="#262626" stroke-width="0.7"/>
<circle cx="430.64" cy="77.89" r="2.2" fill="#7a7a7a" fill-opacity="0.5" stroke="#262626" stroke-width="0.7"/>
<circle cx="435.02" cy="76.71" r="2.2" fill="#7a7a7a" fill-opacity="0.5" stroke="#262626" stroke-width="0.7"/>
<circle cx="444.33" cy="76.71" r="2.2" fill="#7a7a7a" fill-opacity="0.5" stroke="#262626" stroke-width="0.7"/>
<circle cx="448.45" cy="76.94" r="2.2" fill="#7a7a7a" fill-opacity="0.5" stroke="#262626" stroke-width="0.7"/>
<circle cx="417.47" cy="80.41" r="2.2" fill="#7a7a7a" fill-opacity="0.5" stroke="#262626" stroke-width="0.7"/>
<circle cx="422.36" cy="81.43" r="2.2" fill="#7a7a7a" fill-opacity="0.5" stroke="#262626" stroke-width="0.7"/>
<circle cx="427.33" cy="82.14" r="2.2" fill="#7a7a7a" fill-opacity="0.5" stroke="#262626" stroke-width="0.7"/>
<circle cx="432.12" cy="81.96" r="2.2" fill="#7a7a7a" fill-opacity="0.5" stroke="#262626" stroke-width="0.7"/>
<circle cx="435.83" cy="82.04" r="2.2" fill="#7a7a7a" fill-opacity="0.5" stroke="#262626" stroke-width="0.7"/>
<circle cx="440.57" cy="80.61" r="2.2" fill="#7a7a7a" fill-opacity="0.5" stroke="#262626" stroke-width="0.7"/>
<circle cx="446.51" cy="80.62" r="2.2" fill="#7a7a7a" fill-opacity="0.5" stroke="#262626" stroke-width="0.7"/>
<circle cx="416.81" cy="85.37" r="2.2" fill="#7a7a7a" fill-opacity="0.5" stroke="#262626" stroke-width="0.7"/>
<circle cx="430.11" cy="84.68" r="2.2" fill="#7a7a7a" fill-opacity="0.5" stroke="#262626" stroke-width="0.7"/>
<circle cx="442.81" cy="85.28" r="2.2" fill="#7a7a7a" fill-opacity="0.5" stroke="#262626" stroke-width="0.7"/>
<circle cx="414.00" cy="88.67" r="2.2" fill="#7a7a7a" fill-opacity="0.5" stroke="#262626" stroke-width="0.7"/>
<circle cx="426.78" cy="88.84" r="2.2" fill="#7a7a7a" fill-opacity="0.5" stroke="#262626" stroke-width="0.7"/>
<circle cx="431.24" cy="88.83" r="2.2" fill="#7a7a7a" fill-opacity="0.5" stroke="#262626" stroke-width="0.7"/>
<circle cx="437.49" cy="89.42" r="2.2" fill="#7a7a7a" fill-opacity="0.5" stroke="#262626" stroke-width="0.7"/>
<circle cx="410.57" cy="92.08" r="2.2" fill="#7a7a7a" fill-opacity="0.5" stroke="#262626" stroke-width="0.7"/>
<circle cx="420.87" cy="93.01" r="2.2" fill="#7a7a7a" fill-opacity="0.5" stroke="#262626" stroke-width="0.7"/>
<circle cx="429.79" cy="93.52" r="2.2" fill="#7a7a7a" fill-opacity="0.5" stroke="#262626" stroke-width="0.7"/>
<circle cx="434.72" cy="93.45" r="2.2" fill="#7a7a7a" fill-opacity="0.5" stroke="#262626" stroke-width="0.7"/>
<circle cx="409.60" cy="97.79" r="2.2" fill="#7a7a7a" fill-opacity="0.5" stroke="#262626" stroke-width="0.7"/>
<circle cx="423.12" cy="96.75" r="2.2" fill="#7a7a7a" fill-opacity="0.5" stroke="#262626" stroke-width="0.7"/>
<circle cx="427.64" cy="96.15" r="2.2" fill="#7a7a7a" fill-opacity="0.5" stroke="#262626" stroke-width="0.7"/>
<circle cx="403.39" cy="101.69" r="2.2" fill="#7a7a7a" fill-opacity="0.5" stroke="#262626" stroke-width="0.7"/>
<circle cx="406.73" cy="101.40" r="2.2" fill="#7a7a7a" fill-opacity="0.5" stroke="#262626" stroke-width="0.7"/>
<circle cx="395.04" cy="105.26" r="2.2" fill="#7a7a7a" fill-opacity="0.5" stroke="#262626" stroke-width="0.7"/>
<circle cx="400.35" cy="105.71" r="2.2" fill="#7a7a7a" fill-opacity="0.5" stroke="#262626" stroke-width="0.7"/>
<circle cx="409.58" cy="104.27" r="2.2" fill="#7a7a7a" fill-opacity="0.5" stroke="#262626" stroke-width="0.7"/>
<circle cx="414.59" cy="105.19" r="2.2" fill="#7a7a7a" fill-opacity="0.5" stroke="#262626" stroke-width="0.7"/>
<circle cx="398.63" cy="108.46" r="2.2" fill="#7a7a7a" fill-opacity="0.5" stroke="#262626" stroke-width="0.7"/>
<circle cx="407.56" cy="109.64" r="2.2" fill="#7a7a7a" fill-opacity="0.5" stroke="#262626" stroke-width="0.7"/>
<circle cx="411.27" cy="108.97" r="2.2" fill="#7a7a7a" fill-opacity="0.5" stroke="#262626" stroke-width="0.7"/>
<circle cx="390.30" cy="112.74" r="2.2" fill="#7a7a7a" fill-opacity="0.5" stroke="#262626" stroke-width="0.7"/>
<circle cx="396.27" cy="113.17" r="2.2" fill="#7a7a7a" fill-opacity="0.5" stroke="#262626" stroke-width="0.7"/>
<circle cx="404.58" cy="112.30" r="2.2" fill="#7a7a7a" fill-opacity="0.5" stroke="#262626" stroke-width="0.7"/>
<circle cx="388.58" cy="116.94" r="2.2" fill="#7a7a7a" fill-opacity="0.5" stroke="#262626" stroke-width="0.7"/>
<circle cx="392.93" cy="117.37" r="2.2" fill="#7a7a7a" fill-opacity="0.5" stroke="#262626" stroke-width="0.7"/>
<circle cx="391.44" cy="120.77" r="2.2" fill="#7a7a7a" fill-opacity="0.5" stroke="#262626" stroke-width="0.7"/>
<circle cx="379.56" cy="123.62" r="2.2" fill="#7a7a7a" fill-opacity="0.5" stroke="#262626" stroke-width="0.7"/>
<circle cx="389.01" cy="124.46" r="2.2" fill="#7a7a7a" fill-opacity="0.5" stroke="#262626" stroke-width="0.7"/>
<circle cx="377.69" cy="129.13" r="2.2" fill="#7a7a7a" fill-opacity="0.5" stroke="#262626" stroke-width="0.7"/>
<circle cx="382.29" cy="127.91" r="2.2" fill="#7a7a7a" fill-opacity="0.5" stroke="#262626" stroke-width="0.7"/>
<circle cx="374.46" cy="131.47" r="2.2" fill="#7a7a7a" fill-opacity="0.5" stroke="#262626" stroke-width="0.7"/>
<circle cx="380.08" cy="131.81" r="2.2" fill="#7a7a7a" fill-opacity="0.5" stroke="#262626" stroke-width="0.7"/>
<circle cx="372.87" cy="136.62" r="2.2" fill="#7a7a7a" fill-opacity="0.5" stroke="#262626" stroke-width="0.7"/>
<circle cx="365.79" cy="140.92" r="2.2" fill="#7a7a7a" fill-opacity="0.5" stroke="#262626" stroke-width="0.7"/>
<circle cx="467.90" cy="41.50" r="2.2" fill="#e4e4e4" stroke="#5a5a5a" stroke-width="0.7"/>
<circle cx="433.50" cy="69.00" r="2.2" fill="#e4e4e4" stroke="#5a5a5a" stroke-width="0.7"/>
<circle cx="435.90" cy="66.00" r="2.2" fill="#e4e4e4" stroke="#5a5a5a" stroke-width="0.7"/>
<circle cx="400.90" cy="110.80" r="2.2" fill="#e4e4e4" stroke="#5a5a5a" stroke-width="0.7"/>
<circle cx="415.00" cy="97.50" r="2.2" fill="#e4e4e4" stroke="#5a5a5a" stroke-width="0.7"/>
<circle cx="420.00" cy="100.00" r="2.2" fill="#e4e4e4" stroke="#5a5a5a" stroke-width="0.7"/>
<circle cx="441.00" cy="73.90" r="2.2" fill="#e4e4e4" stroke="#5a5a5a" stroke-width="0.7"/>
<circle cx="407.00" cy="95.10" r="2.2" fill="#e4e4e4" stroke="#5a5a5a" stroke-width="0.7"/>
<line x1="278.50" y1="221.60" x2="490.24" y2="4.54" stroke="#111" stroke-width="1.15" stroke-dasharray="3.6,1.7"/>
<line x1="314.44" y1="184.47" x2="495.81" y2="184.47" stroke="#bb3b3b" stroke-width="1.2" stroke-dasharray="1.15,1.75" stroke-linecap="butt"/>
<line x1="314.44" y1="184.47" x2="495.81" y2="139.85" stroke="#bb3b3b" stroke-width="1.2" stroke-dasharray="1.15,1.75" stroke-linecap="butt"/>
<line x1="314.44" y1="184.47" x2="495.81" y2="72.92" stroke="#bb3b3b" stroke-width="1.2" stroke-dasharray="1.15,1.75" stroke-linecap="butt"/>
<line x1="314.44" y1="184.47" x2="495.81" y2="17.14" stroke="#bb3b3b" stroke-width="1.2" stroke-dasharray="1.15,1.75" stroke-linecap="butt"/>
<ellipse cx="314.4" cy="190.6" rx="1.7" ry="7.2" fill="#6a10a6" fill-opacity="0.9"/>
<ellipse cx="314.6" cy="187" rx="1.5" ry="3.5" fill="#5a0890" fill-opacity="0.6"/>
<text x="469.9" y="46.5" font-size="8.3" fill="#bb3b3b" textLength="22.9" lengthAdjust="spacingAndGlyphs">250 ka</text>
<text x="469.5" y="95.7" font-size="8.3" fill="#bb3b3b" textLength="23.5" lengthAdjust="spacingAndGlyphs">100 ka</text>
<text x="474.2" y="151.4" font-size="8.3" fill="#bb3b3b" textLength="18.6" lengthAdjust="spacingAndGlyphs">30 ka</text>
<text x="478.3" y="193.0" font-size="8.3" fill="#bb3b3b" textLength="14.5" lengthAdjust="spacingAndGlyphs">0 ka</text>
</g>
<rect x="32.45" y="7.5" width="216.45" height="214.10" fill="none" stroke="#333" stroke-width="0.8"/>
<rect x="278.5" y="7.4" width="216.00" height="214.20" fill="none" stroke="#333" stroke-width="0.8"/>
<line x1="29.85" y1="221.60" x2="32.45" y2="221.60" stroke="#333" stroke-width="0.8"/>
<text x="27.25" y="225.00" font-size="7.8" text-anchor="end" fill="#000" textLength="10.2" lengthAdjust="spacingAndGlyphs" >0.0</text>
<line x1="29.85" y1="178.78" x2="32.45" y2="178.78" stroke="#333" stroke-width="0.8"/>
<text x="27.25" y="182.18" font-size="7.8" text-anchor="end" fill="#000" textLength="10.2" lengthAdjust="spacingAndGlyphs" >0.2</text>
<line x1="29.85" y1="135.96" x2="32.45" y2="135.96" stroke="#333" stroke-width="0.8"/>
<text x="27.25" y="139.36" font-size="7.8" text-anchor="end" fill="#000" textLength="10.2" lengthAdjust="spacingAndGlyphs" >0.4</text>
<line x1="29.85" y1="93.14" x2="32.45" y2="93.14" stroke="#333" stroke-width="0.8"/>
<text x="27.25" y="96.54" font-size="7.8" text-anchor="end" fill="#000" textLength="10.2" lengthAdjust="spacingAndGlyphs" >0.6</text>
<line x1="29.85" y1="50.32" x2="32.45" y2="50.32" stroke="#333" stroke-width="0.8"/>
<text x="27.25" y="53.72" font-size="7.8" text-anchor="end" fill="#000" textLength="10.2" lengthAdjust="spacingAndGlyphs" >0.8</text>
<line x1="29.85" y1="7.50" x2="32.45" y2="7.50" stroke="#333" stroke-width="0.8"/>
<text x="27.25" y="10.90" font-size="7.8" text-anchor="end" fill="#000" textLength="10.2" lengthAdjust="spacingAndGlyphs" >1.0</text>
<line x1="33.45" y1="221.6" x2="33.45" y2="224.2" stroke="#333" stroke-width="0.8"/>
<text x="33.45" y="233.00" font-size="7.8" text-anchor="middle" fill="#000" >0</text>
<line x1="78.90" y1="221.6" x2="78.90" y2="224.2" stroke="#333" stroke-width="0.8"/>
<text x="78.90" y="233.00" font-size="7.8" text-anchor="middle" fill="#000" textLength="23" lengthAdjust="spacingAndGlyphs" >20 000</text>
<line x1="124.35" y1="221.6" x2="124.35" y2="224.2" stroke="#333" stroke-width="0.8"/>
<text x="124.35" y="233.00" font-size="7.8" text-anchor="middle" fill="#000" textLength="23" lengthAdjust="spacingAndGlyphs" >40 000</text>
<line x1="169.80" y1="221.6" x2="169.80" y2="224.2" stroke="#333" stroke-width="0.8"/>
<text x="169.80" y="233.00" font-size="7.8" text-anchor="middle" fill="#000" textLength="23" lengthAdjust="spacingAndGlyphs" >60 000</text>
<line x1="215.25" y1="221.6" x2="215.25" y2="224.2" stroke="#333" stroke-width="0.8"/>
<text x="215.25" y="233.00" font-size="7.8" text-anchor="middle" fill="#000" textLength="23" lengthAdjust="spacingAndGlyphs" >80 000</text>
<line x1="275.9" y1="221.60" x2="278.5" y2="221.60" stroke="#333" stroke-width="0.8"/>
<text x="273.30" y="225.00" font-size="7.8" text-anchor="end" fill="#000" >0</text>
<line x1="275.9" y1="193.04" x2="278.5" y2="193.04" stroke="#333" stroke-width="0.8"/>
<text x="273.30" y="196.44" font-size="7.8" text-anchor="end" fill="#000" >1</text>
<line x1="275.9" y1="164.48" x2="278.5" y2="164.48" stroke="#333" stroke-width="0.8"/>
<text x="273.30" y="167.88" font-size="7.8" text-anchor="end" fill="#000" >2</text>
<line x1="275.9" y1="135.92" x2="278.5" y2="135.92" stroke="#333" stroke-width="0.8"/>
<text x="273.30" y="139.32" font-size="7.8" text-anchor="end" fill="#000" >3</text>
<line x1="275.9" y1="107.36" x2="278.5" y2="107.36" stroke="#333" stroke-width="0.8"/>
<text x="273.30" y="110.76" font-size="7.8" text-anchor="end" fill="#000" >4</text>
<line x1="275.9" y1="78.80" x2="278.5" y2="78.80" stroke="#333" stroke-width="0.8"/>
<text x="273.30" y="82.20" font-size="7.8" text-anchor="end" fill="#000" >5</text>
<line x1="275.9" y1="50.24" x2="278.5" y2="50.24" stroke="#333" stroke-width="0.8"/>
<text x="273.30" y="53.64" font-size="7.8" text-anchor="end" fill="#000" >6</text>
<line x1="275.9" y1="21.68" x2="278.5" y2="21.68" stroke="#333" stroke-width="0.8"/>
<text x="273.30" y="25.08" font-size="7.8" text-anchor="end" fill="#000" >7</text>
<line x1="278.50" y1="221.6" x2="278.50" y2="224.2" stroke="#333" stroke-width="0.8"/>
<text x="278.50" y="233.00" font-size="7.8" text-anchor="middle" fill="#000" >0</text>
<line x1="306.36" y1="221.6" x2="306.36" y2="224.2" stroke="#333" stroke-width="0.8"/>
<text x="306.36" y="233.00" font-size="7.8" text-anchor="middle" fill="#000" >1</text>
<line x1="334.22" y1="221.6" x2="334.22" y2="224.2" stroke="#333" stroke-width="0.8"/>
<text x="334.22" y="233.00" font-size="7.8" text-anchor="middle" fill="#000" >2</text>
<line x1="362.08" y1="221.6" x2="362.08" y2="224.2" stroke="#333" stroke-width="0.8"/>
<text x="362.08" y="233.00" font-size="7.8" text-anchor="middle" fill="#000" >3</text>
<line x1="389.94" y1="221.6" x2="389.94" y2="224.2" stroke="#333" stroke-width="0.8"/>
<text x="389.94" y="233.00" font-size="7.8" text-anchor="middle" fill="#000" >4</text>
<line x1="417.80" y1="221.6" x2="417.80" y2="224.2" stroke="#333" stroke-width="0.8"/>
<text x="417.80" y="233.00" font-size="7.8" text-anchor="middle" fill="#000" >5</text>
<line x1="445.66" y1="221.6" x2="445.66" y2="224.2" stroke="#333" stroke-width="0.8"/>
<text x="445.66" y="233.00" font-size="7.8" text-anchor="middle" fill="#000" >6</text>
<line x1="473.52" y1="221.6" x2="473.52" y2="224.2" stroke="#333" stroke-width="0.8"/>
<text x="473.52" y="233.00" font-size="7.8" text-anchor="middle" fill="#000" >7</text>
<text x="37.00" y="17.80" font-size="8.0" text-anchor="start" fill="#000" textLength="171" lengthAdjust="spacingAndGlyphs" >(a) U-Pb Tera-Wasserburg concordia diagram</text>
<text x="282.80" y="17.80" font-size="8.0" text-anchor="start" fill="#000" textLength="143.6" lengthAdjust="spacingAndGlyphs" >(b) U-Th disequilibrium evolution plot</text>
<circle cx="88.5" cy="27.6" r="2.2" fill="#6a6a6a" stroke="#333" stroke-width="0.75"/>
<text x="102.10" y="29.90" font-size="7.6" text-anchor="start" fill="#000" textLength="128.4" lengthAdjust="spacingAndGlyphs" >Zircon with resolvable U–Pb age (2σ)</text>
<circle cx="88.5" cy="38.3" r="2.2" fill="#e6e6e6" stroke="#707070" stroke-width="0.75"/>
<text x="102.10" y="40.60" font-size="7.6" text-anchor="start" fill="#000" textLength="139.7" lengthAdjust="spacingAndGlyphs" >Zircon without resolvable U–Pb age (2σ)</text>
<line x1="81.7" y1="49.0" x2="96.2" y2="49.0" stroke="#000" stroke-width="1.35" stroke-dasharray="3.4,1.8"/>
<text x="101.80" y="51.20" font-size="7.6" text-anchor="start" fill="#000" textLength="34.6" lengthAdjust="spacingAndGlyphs" >Concordia</text>
<circle cx="291.6" cy="27.2" r="2.2" fill="#6a6a6a" stroke="#333" stroke-width="0.75"/>
<text x="304.70" y="29.60" font-size="7.6" text-anchor="start" fill="#000" textLength="128.7" lengthAdjust="spacingAndGlyphs" >Zircon with resolvable U–Pb age (2σ)</text>
<circle cx="291.6" cy="37.8" r="2.2" fill="#e6e6e6" stroke="#707070" stroke-width="0.75"/>
<text x="304.70" y="40.30" font-size="7.6" text-anchor="start" fill="#000" textLength="140.3" lengthAdjust="spacingAndGlyphs" >Zircon without resolvable U–Pb age (2σ)</text>
<circle cx="291.6" cy="48.4" r="1.3" fill="#6a10a6"/>
<text x="304.70" y="50.80" font-size="7.6" text-anchor="start" fill="#000" textLength="99.4" lengthAdjust="spacingAndGlyphs" >Measured groundmass glass</text>
<line x1="284.2" y1="59.0" x2="298.9" y2="59.0" stroke="#000" stroke-width="1.35" stroke-dasharray="3.4,1.8"/>
<text x="304.70" y="61.40" font-size="7.6" text-anchor="start" fill="#000" textLength="67.4" lengthAdjust="spacingAndGlyphs" >Secular equilibrium</text>
<text x="140.65" y="241.6" font-size="7.9" text-anchor="middle" fill="#000"><tspan font-size="5.6" dy="-2.9">238</tspan><tspan dy="2.9">U/</tspan><tspan font-size="5.6" dy="-2.9">206</tspan><tspan dy="2.9">Pb</tspan></text>
<text x="386.3" y="241.6" font-size="7.9" text-anchor="middle" fill="#000">(<tspan font-size="5.6" dy="-2.9">238</tspan><tspan dy="2.9">U)/(</tspan><tspan font-size="5.6" dy="-2.9">232</tspan><tspan dy="2.9">Th)</tspan></text>
<g transform="translate(12.0,114.5) rotate(-90)"><text x="0" y="0" font-size="7.9" text-anchor="middle" fill="#000"><tspan font-size="5.6" dy="-2.9">207</tspan><tspan dy="2.9">Pb/</tspan><tspan font-size="5.6" dy="-2.9">206</tspan><tspan dy="2.9">Pb</tspan></text></g>
<g transform="translate(264.4,114.7) rotate(-90)"><text x="0" y="0" font-size="7.9" text-anchor="middle" fill="#000">(<tspan font-size="5.6" dy="-2.9">230</tspan><tspan dy="2.9">Th)/(</tspan><tspan font-size="5.6" dy="-2.9">232</tspan><tspan dy="2.9">Th)</tspan></text></g>
</svg></body></html>
